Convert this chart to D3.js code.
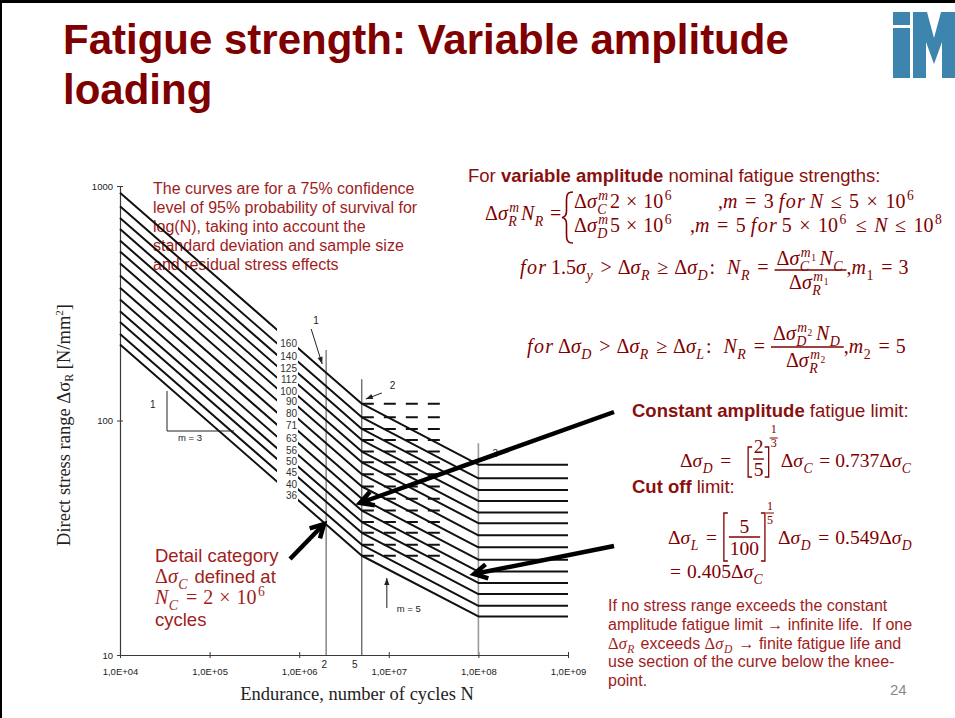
<!DOCTYPE html>
<html>
<head>
<meta charset="utf-8">
<title>Fatigue strength: Variable amplitude loading</title>
<script src="https://cdn.jsdelivr.net/npm/d3@7/dist/d3.min.js"></script>
<style>
  html, body { margin: 0; padding: 0; background: #fff; }
  svg { display: block; }
  text { white-space: pre; }
</style>
</head>
<body>
<svg id="slide" width="955" height="718"></svg>
<script>
// ---------- data ----------
// detail categories Δσc [N/mm²], defined at Nc = 2·10^6 cycles
const detailCategories = [160, 140, 125, 112, 100, 90, 80, 71, 63, 56, 50, 45, 40, 36];
// stress range at N = 10^4 (start of the m = 3 branch)
const rangeAt1e4 = [936, 819, 731, 655, 585, 526, 468, 415, 368, 328, 292, 263, 234, 211];
// constant amplitude fatigue limit ΔσD at N = 5·10^6
const limitD = [117.9, 103.2, 92.1, 82.5, 73.7, 66.3, 59.0, 52.3, 46.4, 41.3, 36.9, 33.2, 29.5, 26.5];
// cut-off limit ΔσL at N = 10^8
const cutOffL = [64.8, 56.7, 50.6, 45.4, 40.5, 36.5, 32.4, 28.8, 25.5, 22.7, 20.3, 18.2, 16.2, 14.6];
// endurance break points of every curve
const knotN = [1e4, 2e6, 5e6, 1e8, 1e9];
// dashed constant-amplitude limit lines run from 5·10^6 to here
const dashEndN = 3.8e7;
// vertical reference lines: endurance, top stress, label
const guideN = [2e6, 5e6, 1e8];
const guideTop = [200, 150, 80];
const guideNames = ["1", "2", "3"];
// axes
const xTicks = [1e4, 1e5, 1e6, 1e7, 1e8, 1e9];
const xTickLabels = ["1,0E+04", "1,0E+05", "1,0E+06", "1,0E+07", "1,0E+08", "1,0E+09"];
const yTicks = [10, 100, 1000];
const yTickLabels = ["10", "100", "1000"];

// ---------- styles ----------
const SERIF = "'Liberation Serif','Times New Roman',serif";
const SANS = "'Liberation Sans',Arial,Helvetica,sans-serif";
const TITLE = '#7f0000';
const MATH = '#800000';
const HEAD = '#8a0f0f';
const PARA = '#a01d1d';
const MFS = 20;

const svg = d3.select('#slide');
const W = 955, H = 718;
svg.append('rect').attr('width', W).attr('height', H).attr('fill', '#fff');
svg.append('rect').attr('x', 0).attr('y', 0).attr('width', W).attr('height', 3).attr('fill', '#000');
svg.append('rect').attr('x', 0).attr('y', 0).attr('width', 2).attr('height', H).attr('fill', '#000');

// ---------- title & logo ----------
const title = svg.append('text').attr('font-family', SANS).attr('font-weight', 'bold')
  .attr('font-size', 42).attr('fill', TITLE);
title.append('tspan').attr('x', 63).attr('y', 54).text('Fatigue strength: Variable amplitude');
title.append('tspan').attr('x', 63).attr('y', 104).text('loading');

const logo = svg.append('g').attr('fill', '#3d85ae');
logo.append('rect').attr('x', 893).attr('y', 12).attr('width', 17).attr('height', 13);
logo.append('rect').attr('x', 893).attr('y', 28).attr('width', 17).attr('height', 50);
logo.append('path').attr('d', 'M913,12H927L934,38L941,12H955V78H942V42L934,64L926,42V78H913Z');

// ---------- small text-layout helpers ----------
function put(g, x, y, s, fs, o) {
  const t = g.append('text')
    .attr('x', x).attr('y', y)
    .attr('font-family', o.sans ? SANS : SERIF)
    .attr('font-size', fs)
    .attr('font-style', o.italic ? 'italic' : null)
    .attr('font-weight', o.bold ? 'bold' : null)
    .text(s);
  return t.node().getComputedTextLength();
}

// lays out a run of formula tokens from (x0, y0) and returns the end x
function lay(g, x0, y0, items, fs) {
  let x = x0;
  for (const it of items) {
    const k = it[0];
    if (k === 'r') x += put(g, x, y0, it[1], fs, {});
    else if (k === 'i') x += put(g, x, y0, it[1], fs, { italic: true });
    else if (k === 'a') x += put(g, x, y0, it[1], it[2] || fs, { sans: true });
    else if (k === 'sp') x += it[1];
    else if (k === 'ss') {
      const [, base, sub, sup] = it;
      if (base) x += put(g, x, y0, base, fs, { italic: true });
      let w = 0;
      if (sub) w = Math.max(w, lay(g, x + 0.5, y0 + fs * 0.3, sub, fs * 0.7) - x);
      if (sup) w = Math.max(w, lay(g, x + 1.5, y0 - fs * 0.42, sup, fs * 0.68) - x);
      x += w + 1.8;
    } else if (k === 'frac') {
      const [, num, den, o] = it;
      const s = o.s || 1, pad = o.pad == null ? 2 : o.pad;
      const gn = g.append('g'), gd = g.append('g');
      const wn = lay(gn, 0, y0 - o.nu, num, fs * s);
      const wd = lay(gd, 0, y0 + o.dn, den, fs * s);
      const w = Math.max(wn, wd) + 2 * pad;
      gn.attr('transform', `translate(${x + (w - wn) / 2},0)`);
      gd.attr('transform', `translate(${x + (w - wd) / 2},0)`);
      g.append('line').attr('x1', x).attr('x2', x + w)
        .attr('y1', y0 - o.bar).attr('y2', y0 - o.bar)
        .attr('stroke', MATH).attr('stroke-width', o.bw || 1.4);
      x += w;
    } else if (k === 'brk') {
      const [, side, up, dn] = it;
      const bw = 4, x1 = x + 0.8, x2 = x + 0.8 + bw;
      const d = side === '['
        ? `M${x2},${y0 - up}H${x1}V${y0 + dn}H${x2}`
        : `M${x1},${y0 - up}H${x2}V${y0 + dn}H${x1}`;
      g.append('path').attr('d', d).attr('fill', 'none')
        .attr('stroke', MATH).attr('stroke-width', 1.3);
      x += bw + 1.8;
    }
  }
  return x;
}
const op = (s, w = 6) => [['sp', w], ['r', s], ['sp', w]];
const ds = (sub, sup) => [['r', 'Δ'], ['ss', 'σ', sub ? [['i', sub]] : null, sup || null]];
const pow10 = e => [['r', '10'], ['ss', null, null, [['r', e]]]];
const mIdx = d => [['i', 'm'], ['ss', null, [['r', d]], null]];
const M = [['i', 'm']];
const FOR = [['i', 'f'], ['sp', 1.5], ['i', 'o'], ['sp', 1.2], ['i', 'r']];

// ---------- paragraph under the curves ----------
const para1 = svg.append('g').attr('fill', PARA);
['The curves are for a 75% confidence',
 'level of 95% probability of survival for',
 'log(N), taking into account the',
 'standard deviation and sample size',
 'and residual stress effects'].forEach((s, i) => put(para1, 153, 194 + 19 * i, s, 16, { sans: true }));

// ---------- S-N chart ----------
const x = d3.scaleLog().domain([1e4, 1e9]).range([120, 568]);
const y = d3.scaleLog().domain([10, 1000]).range([655, 186]);
const axisColor = '#3a3a3a';

const gx = svg.append('g').attr('transform', `translate(0,${y(10)})`)
  .call(d3.axisBottom(x).tickValues(xTicks).tickFormat((d, i) => xTickLabels[i])
    .tickSizeInner(3).tickSizeOuter(0));
gx.select('.domain').attr('stroke', axisColor).attr('stroke-width', 1.2);
gx.selectAll('.tick line').attr('y1', -3).attr('y2', 3).attr('stroke', axisColor);
gx.selectAll('.tick text').attr('y', 20).attr('dy', null)
  .attr('font-family', SANS).attr('font-size', 9.5).attr('fill', '#222');

const gy = svg.append('g').attr('transform', `translate(${x(1e4)},0)`)
  .call(d3.axisLeft(y).tickValues(yTicks).tickFormat((d, i) => yTickLabels[i])
    .tickSizeInner(3).tickSizeOuter(0));
gy.select('.domain').attr('stroke', axisColor).attr('stroke-width', 1.2);
gy.selectAll('.tick line').attr('x1', -3).attr('x2', 3).attr('stroke', axisColor);
gy.selectAll('.tick text').attr('x', -7).attr('dy', '0.34em')
  .attr('font-family', SANS).attr('font-size', 9.5).attr('fill', '#222');

// axis titles
const yTitle = svg.append('text').attr('transform', 'translate(70,425) rotate(-90)')
  .attr('text-anchor', 'middle').attr('font-family', SERIF).attr('font-size', 18.5).attr('fill', '#222');
yTitle.append('tspan').text('Direct stress range Δσ');
yTitle.append('tspan').attr('font-size', 12).attr('dy', 3).text('R');
yTitle.append('tspan').attr('dy', -3).text(' [N/mm');
yTitle.append('tspan').attr('font-size', 11).attr('dy', -7).text('2');
yTitle.append('tspan').attr('dy', 7).text(']');

svg.append('text').attr('x', 357).attr('y', 700).attr('text-anchor', 'middle')
  .attr('font-family', SERIF).attr('font-size', 18.5).attr('fill', '#222')
  .text('Endurance, number of cycles N');

// vertical reference lines
const guideStroke = ['#8d8d8d', '#333', '#9a9a9a'];
const guideWidth = [1.6, 1, 1.6];
guideN.forEach((n, i) => {
  svg.append('line').attr('x1', x(n)).attr('x2', x(n))
    .attr('y1', y(guideTop[i])).attr('y2', y(10))
    .attr('stroke', guideStroke[i]).attr('stroke-width', guideWidth[i]);
});
// "2" and "5" under the axis
const ax = svg.append('g').attr('font-family', SANS).attr('font-size', 10).attr('fill', '#222')
  .attr('text-anchor', 'middle');
ax.append('text').attr('x', x(guideN[0]) - 2).attr('y', 667.5).text('2');
ax.append('text').attr('x', x(guideN[1]) - 7).attr('y', 667.5).text('5');

// curves: m = 3 up to 5·10^6, m = 5 up to 10^8, horizontal cut-off to 10^9
const defs = svg.append('defs');
const clip = defs.append('clipPath').attr('id', 'labelGap');
clip.append('rect').attr('x', 0).attr('y', 0).attr('width', 277).attr('height', H);
clip.append('rect').attr('x', 298).attr('y', 0).attr('width', W - 298).attr('height', H);

const curveLine = d3.line().x(d => x(d[0])).y(d => y(d[1]));
const curves = detailCategories.map((c, i) => [
  [knotN[0], rangeAt1e4[i]],
  [knotN[1], c],
  [knotN[2], limitD[i]],
  [knotN[3], cutOffL[i]],
  [knotN[4], cutOffL[i]]
]);
svg.append('g').attr('clip-path', 'url(#labelGap)')
  .selectAll('path').data(curves).join('path')
  .attr('d', curveLine).attr('fill', 'none')
  .attr('stroke', '#111').attr('stroke-width', 2).attr('stroke-linejoin', 'round');

// dashed constant-amplitude limit lines
svg.append('g').selectAll('path').data(limitD).join('path')
  .attr('d', v => curveLine([[knotN[2], v], [dashEndN, v]]))
  .attr('fill', 'none').attr('stroke', '#111').attr('stroke-width', 2)
  .attr('stroke-dasharray', '12,10');

// category labels in the gap of each curve
const labelN = x.invert(289);
svg.append('g').attr('font-family', SANS).attr('font-size', 10).attr('fill', '#333')
  .attr('text-anchor', 'end')
  .selectAll('text').data(detailCategories).join('text')
  .attr('x', 297)
  .attr('y', (c, i) => {
    const t = Math.log(labelN / knotN[0]) / Math.log(knotN[1] / knotN[0]);
    const v = Math.exp(Math.log(rangeAt1e4[i]) + t * Math.log(c / rangeAt1e4[i]));
    return y(v) + 6.5;
  })
  .text(d => d);

// ---------- annotations on the chart ----------
const ann = svg.append('g');
const small = ann.append('g').attr('font-family', SANS).attr('font-size', 10).attr('fill', '#222');

function smallArrow(x1, y1, x2, y2) {
  ann.append('line').attr('x1', x1).attr('y1', y1).attr('x2', x2).attr('y2', y2)
    .attr('stroke', '#222').attr('stroke-width', 1);
  const a = Math.atan2(y2 - y1, x2 - x1), L = 7, hw = 2.6;
  const bx = x2 - L * Math.cos(a), by = y2 - L * Math.sin(a);
  ann.append('path')
    .attr('d', `M${x2},${y2}L${bx - hw * Math.sin(a)},${by + hw * Math.cos(a)}L${bx + hw * Math.sin(a)},${by - hw * Math.cos(a)}Z`)
    .attr('fill', '#222');
}
function bigArrow(x1, y1, x2, y2) {
  ann.append('line').attr('x1', x1).attr('y1', y1).attr('x2', x2).attr('y2', y2)
    .attr('stroke', '#000').attr('stroke-width', 4.5);
  const a = Math.atan2(y2 - y1, x2 - x1), L = 15, sp = 0.5;
  const p1 = [x2 - L * Math.cos(a - sp), y2 - L * Math.sin(a - sp)];
  const p2 = [x2 - L * Math.cos(a + sp), y2 - L * Math.sin(a + sp)];
  ann.append('path').attr('d', `M${p1}L${x2},${y2}L${p2}`)
    .attr('fill', 'none').attr('stroke', '#000').attr('stroke-width', 4.5)
    .attr('stroke-linejoin', 'miter').attr('stroke-miterlimit', 10);
}

// labels of the reference lines
const g1 = x(guideN[0]), g2 = x(guideN[1]), g3 = x(guideN[2]);
small.append('text').attr('x', g1 - 13).attr('y', 324).text(guideNames[0]);
smallArrow(g1 - 15, 329, g1 - 4, 364);
small.append('text').attr('x', g2 + 28).attr('y', 389).text(guideNames[1]);
smallArrow(g2 + 20, 393, g2 + 4, 399);
small.append('text').attr('x', g3 + 14).attr('y', 457).text(guideNames[2]);

// slope triangle m = 3
ann.append('path').attr('d', 'M167,391V431H234').attr('fill', 'none')
  .attr('stroke', '#222').attr('stroke-width', 1);
small.append('text').attr('x', 150).attr('y', 408).text('1');
small.append('text').attr('x', 178).attr('y', 441).attr('font-size', 9.5).text('m = 3');

// m = 5 marker
smallArrow(g2 + 25, 608, g2 + 25, 578);
small.append('text').attr('x', g2 + 35).attr('y', 612).attr('font-size', 9.5).text('m = 5');

// pointer arrows
bigArrow(614, 412, 360, 503);
bigArrow(614, 546, 474, 574);
bigArrow(290, 559, 324, 524);

// ---------- detail category note ----------
const detail = svg.append('g').attr('fill', PARA);
put(detail, 155, 561.5, 'Detail category', 18.5, { sans: true });
lay(detail, 155, 582.5, [...ds('C'), ['a', ' defined at', 18.5]], 20);
lay(detail, 155, 604, [['ss', 'N', [['i', 'C']], null], ...op('='), ['r', '2'], ...op('×'), ...pow10('6')], 20);
put(detail, 155, 625.5, 'cycles', 18.5, { sans: true });

// ---------- formulas ----------
const head = svg.append('g').attr('fill', HEAD).attr('font-family', SANS).attr('font-size', 18.5);
const h1 = head.append('text').attr('x', 468).attr('y', 181.5);
h1.append('tspan').text('For ');
h1.append('tspan').attr('font-weight', 'bold').text('variable amplitude');
h1.append('tspan').text(' nominal fatigue strengths:');
const h2 = head.append('text').attr('x', 632).attr('y', 416.7);
h2.append('tspan').attr('font-weight', 'bold').text('Constant amplitude');
h2.append('tspan').text(' fatigue limit:');
const h3 = head.append('text').attr('x', 632).attr('y', 493);
h3.append('tspan').attr('font-weight', 'bold').text('Cut off');
h3.append('tspan').text(' limit:');

const mg = svg.append('g').attr('fill', MATH);
lay(mg, 485, 220, [...ds('R', M), ['ss', 'N', [['i', 'R']], null], ['sp', 5], ['r', '=']], MFS);
mg.append('path')
  .attr('d', 'M573,192C566.5,192 566.5,196 566.5,202L566.5,211C566.5,215 565.5,217 562,217.5C565.5,218 566.5,220 566.5,224L566.5,233C566.5,239 566.5,243 573,243')
  .attr('fill', 'none').attr('stroke', MATH).attr('stroke-width', 1.6);
lay(mg, 574, 208, [...ds('C', M), ['r', '2'], ...op('×'), ...pow10('6')], MFS);
lay(mg, 718, 208, [['r', ','], ['i', 'm'], ...op('=', 7.5), ['r', '3'], ['sp', 5], ...FOR, ['sp', 5],
  ['i', 'N'], ...op('≤', 7.5), ['r', '5'], ...op('×', 7.5), ...pow10('6')], MFS);
lay(mg, 574, 232, [...ds('D', M), ['r', '5'], ...op('×'), ...pow10('6')], MFS);
lay(mg, 690, 232, [['r', ','], ['i', 'm'], ...op('=', 7.5), ['r', '5'], ['sp', 5], ...FOR, ['sp', 5],
  ['r', '5'], ...op('×', 7.5), ...pow10('6'), ...op('≤', 7.5), ['i', 'N'], ...op('≤', 7.5), ...pow10('8')], MFS);
lay(mg, 520, 274, [...FOR, ['sp', 5], ['r', '1.5'], ['ss', 'σ', [['i', 'y']], null], ...op('>'),
  ...ds('R'), ...op('≥'), ...ds('D'), ['r', ':'], ['sp', 12], ['ss', 'N', [['i', 'R']], null], ...op('='),
  ['frac', [...ds('C', mIdx('1')), ['ss', 'N', [['i', 'C']], null]], ds('R', mIdx('1')), { nu: 9, bar: 4, dn: 15 }],
  ['r', ','], ['ss', 'm', [['r', '1']], null], ...op('='), ['r', '3']], MFS);

lay(mg, 527, 353, [...FOR, ['sp', 5], ...ds('D'), ...op('>'), ...ds('R'), ...op('≥'), ...ds('L'),
  ['r', ':'], ['sp', 12], ['ss', 'N', [['i', 'R']], null], ...op('='),
  ['frac', [...ds('D', mIdx('2')), ['ss', 'N', [['i', 'D']], null]], ds('R', mIdx('2')), { nu: 13, bar: 6, dn: 14 }],
  ['r', ','], ['ss', 'm', [['r', '2']], null], ...op('='), ['r', '5']], MFS);

lay(mg, 680, 467, [...ds('D'), ...op('='), ['sp', 10], ['brk', '[', 20, 10],
  ['frac', [['r', '2']], [['r', '5']], { nu: 14, bar: 8, dn: 9, pad: 0.5 }], ['brk', ']', 20, 10],
  ['frac', [['r', '1']], [['r', '3']], { nu: 34, bar: 29, dn: -20, s: 0.62, pad: 1, bw: 1 }], ['sp', 3],
  ...ds('C'), ...op('=', 5), ['r', '0.737'], ...ds('C')], 19.5);

lay(mg, 668, 544, [...ds('L'), ...op('='), ['brk', '[', 31, 17],
  ['frac', [['r', '5']], [['r', '100']], { nu: 11, bar: 7, dn: 11, pad: 1 }], ['brk', ']', 31, 17],
  ['frac', [['r', '1']], [['r', '5']], { nu: 34, bar: 31, dn: -20, s: 0.62, pad: 1, bw: 1 }], ['sp', 4],
  ...ds('D'), ...op('='), ['r', '0.549'], ...ds('D')], 19.5);
lay(mg, 670, 578, [['r', '='], ['sp', 6], ['r', '0.405'], ...ds('C')], 19.5);

// ---------- closing note ----------
const para2 = svg.append('g').attr('fill', PARA);
put(para2, 608, 611, 'If no stress range exceeds the constant', 16, { sans: true });
put(para2, 608, 629.5, 'amplitude fatigue limit → infinite life.  If one', 16, { sans: true });
lay(para2, 608, 648.5, [...ds('R'), ['a', ' exceeds ', 16], ...ds('D'), ['a', ' → finite fatigue life and', 16]], 16.5);
put(para2, 608, 667, 'use section of the curve below the knee-', 16, { sans: true });
put(para2, 608, 686, 'point.', 16, { sans: true });

svg.append('text').attr('x', 890).attr('y', 695).attr('font-family', SANS)
  .attr('font-size', 15).attr('fill', '#8a8a8a').text('24');
</script>
</body>
</html>
